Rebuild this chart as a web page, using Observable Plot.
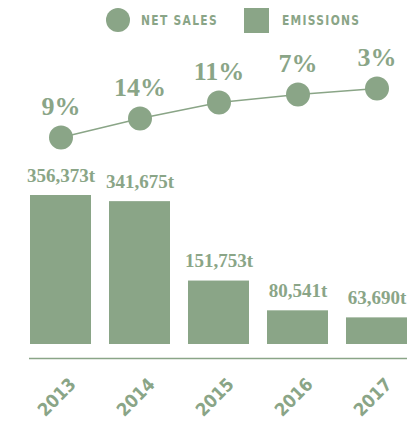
<!DOCTYPE html>
<html><head><meta charset="utf-8">
<script src="https://cdn.jsdelivr.net/npm/d3@7"></script>
<script src="https://cdn.jsdelivr.net/npm/@observablehq/plot@0.6"></script>
<style>
body{margin:0;width:412px;height:422px;position:relative;background:#fff;overflow:hidden}
.sw{position:absolute;background:#8aa587}
.lab{position:absolute;font-family:"DejaVu Sans Condensed","DejaVu Sans",sans-serif;font-weight:bold;font-size:14.5px;letter-spacing:1.6px;color:#8aa587;line-height:15px;transform:scaleX(0.82);transform-origin:0 50%;white-space:nowrap}
#line{position:absolute;top:40px;left:0}
#bars{position:absolute;top:150px;left:0}
</style></head><body>
<div class="sw" style="left:106px;top:8px;width:24px;height:24px;border-radius:50%"></div>
<div class="lab" style="left:141px;top:13px">NET SALES</div>
<div class="sw" style="left:244px;top:8px;width:25px;height:25px"></div>
<div class="lab" style="left:282px;top:13px">EMISSIONS</div>
<div id="line"></div>
<div id="bars"></div>
<script>
const years = ["2013", "2014", "2015", "2016", "2017"];
const emissions = [356373, 341675, 151753, 80541, 63690];
const netSalesGrowth = [9, 14, 11, 7, 3];
// relative height of the net-sales markers
const netSalesLevel = [0, 19, 35, 43, 49];

const green = "#8aa587";
const serif = "'Liberation Serif', 'DejaVu Serif', serif";
const cond = "'DejaVu Sans Condensed', 'DejaVu Sans', sans-serif";
const rows = years.map((y, i) => ({year: y, emissions: emissions[i], growth: netSalesGrowth[i], level: netSalesLevel[i]}));
const xScale = {type: "band", domain: years, paddingInner: 0.23, paddingOuter: 0, axis: null};

const linePlot = Plot.plot({
  width: 412, height: 110, marginLeft: 29, marginRight: 5, marginTop: 0, marginBottom: 0,
  x: xScale,
  y: {domain: [0, 49], range: [97, 48], axis: null},
  marks: [
    Plot.line(rows, {x: "year", y: "level", stroke: green, strokeWidth: 1.5}),
    Plot.dot(rows, {x: "year", y: "level", r: 12, fill: green}),
    Plot.text(rows, {x: "year", y: "level", text: d => d.growth + "%", dy: -23, lineAnchor: "bottom",
      fill: green, fontFamily: serif, fontWeight: "bold", fontSize: 26})
  ]
});
document.getElementById("line").append(linePlot);

const fmt = d3.format(",");
const barPlot = Plot.plot({
  width: 412, height: 272, marginLeft: 29, marginRight: 5, marginTop: 45, marginBottom: 78,
  x: xScale,
  y: {domain: [0, 356373], axis: null},
  marks: [
    Plot.barY(rows, {x: "year", y: "emissions", fill: green}),
    Plot.text(rows, {x: "year", y: "emissions", text: d => fmt(d.emissions) + "t", dy: -14, lineAnchor: "bottom",
      fill: green, fontFamily: serif, fontWeight: "bold", fontSize: 19}),
    Plot.ruleY([0], {dy: 14, stroke: green, strokeWidth: 1.5}),
    Plot.text(rows, {x: "year", y: 0, text: "year", dy: 53, dx: -4, rotate: -45, textAnchor: "middle", lineAnchor: "middle",
      fill: green, fontFamily: cond, fontWeight: "bold", fontSize: 18})
  ]
});
document.getElementById("bars").append(barPlot);
</script>
</body></html>
